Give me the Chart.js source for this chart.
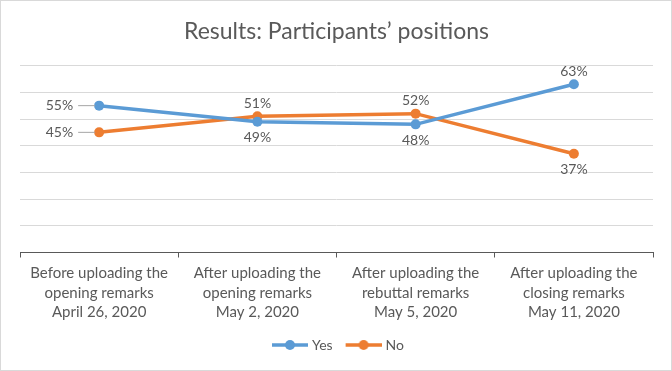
<!DOCTYPE html>
<html lang="en">
<head>
  <meta charset="UTF-8">
  <title>Results: Participants' positions</title>
  <script src="https://cdn.jsdelivr.net/npm/chart.js"></script>
  <style>
    html, body { margin: 0; padding: 0; background: #fff; }
    #wrap { width: 672px; height: 371px; }
  </style>
</head>
<body>
  <div id="wrap"><canvas id="chart" width="672" height="371"></canvas></div>

  <script>
    const categories = [
      ["Before uploading the", "opening remarks", "April 26, 2020"],
      ["After uploading the", "opening remarks", "May 2, 2020"],
      ["After uploading the", "rebuttal remarks", "May 5, 2020"],
      ["After uploading the", "closing remarks", "May 11, 2020"]
    ];
    const yesValues = [55, 49, 48, 63];
    const noValues = [45, 51, 52, 37];
    const yesLabelPos = ["left", "below", "below", "above"];
    const noLabelPos = ["left", "above", "above", "below"];

    const BLUE = "#5b9bd5";
    const ORANGE = "#ed7d31";
    const TEXT = "#595959";
    const FONT = "Lato, 'Open Sans', sans-serif";

    // line + dot icon for the legend (left 6px left blank so it sits closer to the text)
    function legendIcon(color) {
      const c = document.createElement("canvas");
      c.width = 42; c.height = 12;
      const g = c.getContext("2d");
      g.strokeStyle = color; g.lineWidth = 3.5;
      g.beginPath(); g.moveTo(6, 6); g.lineTo(42, 6); g.stroke();
      g.fillStyle = color;
      g.beginPath(); g.arc(24, 6, 5, 0, Math.PI * 2); g.fill();
      return c;
    }

    const pointLabels = {
      id: "pointLabels",
      afterDatasetsDraw(chart) {
        const ctx = chart.ctx;
        ctx.save();
        ctx.font = "14px " + FONT;
        ctx.fillStyle = TEXT;
        chart.data.datasets.forEach((ds, i) => {
          const meta = chart.getDatasetMeta(i);
          meta.data.forEach((pt, j) => {
            const txt = ds.data[j] + "%";
            const pos = ds.labelPos[j];
            if (pos === "left") {
              ctx.strokeStyle = "#a6a6a6";
              ctx.lineWidth = 1;
              ctx.beginPath();
              ctx.moveTo(pt.x - 21, pt.y);
              ctx.lineTo(pt.x - 4, pt.y);
              ctx.stroke();
              ctx.textAlign = "right";
              ctx.textBaseline = "middle";
              ctx.fillText(txt, pt.x - 26, pt.y);
            } else if (pos === "above") {
              ctx.textAlign = "center";
              ctx.textBaseline = "bottom";
              ctx.fillText(txt, pt.x, pt.y - 6);
            } else {
              ctx.textAlign = "center";
              ctx.textBaseline = "top";
              ctx.fillText(txt, pt.x, pt.y + 9);
            }
          });
        });
        ctx.restore();
      }
    };

    const frame = {
      id: "frame",
      afterDraw(chart) {
        const ctx = chart.ctx;
        ctx.save();
        ctx.strokeStyle = "#d9d9d9";
        ctx.lineWidth = 1;
        ctx.strokeRect(0.5, 0.5, chart.width - 1, chart.height - 1);
        ctx.restore();
      }
    };

    new Chart(document.getElementById("chart"), {
      type: "line",
      data: {
        labels: categories,
        datasets: [
          {
            label: "Yes",
            data: yesValues,
            labelPos: yesLabelPos,
            borderColor: BLUE,
            backgroundColor: BLUE,
            borderWidth: 3.5,
            pointRadius: 5,
            pointHoverRadius: 5,
            pointBackgroundColor: BLUE,
            pointBorderWidth: 0,
            tension: 0
          },
          {
            label: "No",
            data: noValues,
            labelPos: noLabelPos,
            borderColor: ORANGE,
            backgroundColor: ORANGE,
            borderWidth: 3.5,
            pointRadius: 5,
            pointHoverRadius: 5,
            pointBackgroundColor: ORANGE,
            pointBorderWidth: 0,
            tension: 0
          }
        ]
      },
      options: {
        responsive: false,
        animation: false,
        layout: { padding: { left: 20, right: 19, top: 18, bottom: 9 } },
        plugins: {
          tooltip: { enabled: false },
          title: {
            display: true,
            text: "Results: Participants\u2019 positions",
            color: TEXT,
            font: { family: FONT, size: 23, weight: "normal" },
            padding: { top: 0, bottom: 20 }
          },
          legend: {
            position: "bottom",
            labels: {
              color: TEXT,
              font: { family: FONT, size: 14 },
              usePointStyle: true,
              pointStyleWidth: 36,
              padding: 10,
              generateLabels(chart) {
                return chart.data.datasets.map((ds, i) => ({
                  text: ds.label,
                  fontColor: TEXT,
                  pointStyle: legendIcon(ds.borderColor),
                  datasetIndex: i,
                  hidden: false,
                  lineWidth: 0
                }));
              }
            }
          }
        },
        scales: {
          x: {
            offset: true,
            grid: {
              offset: true,
              drawOnChartArea: false,
              drawTicks: true,
              tickLength: 5,
              color: "#595959"
            },
            border: { display: true, color: "#595959", width: 1 },
            ticks: {
              color: TEXT,
              font: { family: FONT, size: 15, lineHeight: 1.3 },
              maxRotation: 0,
              autoSkip: false,
              padding: 6
            }
          },
          y: {
            min: 0,
            max: 70,
            ticks: { display: false, stepSize: 10 },
            grid: { color: "#d9d9d9", drawTicks: false },
            border: { display: false }
          }
        }
      },
      plugins: [pointLabels, frame]
    });
  </script>
</body>
</html>
